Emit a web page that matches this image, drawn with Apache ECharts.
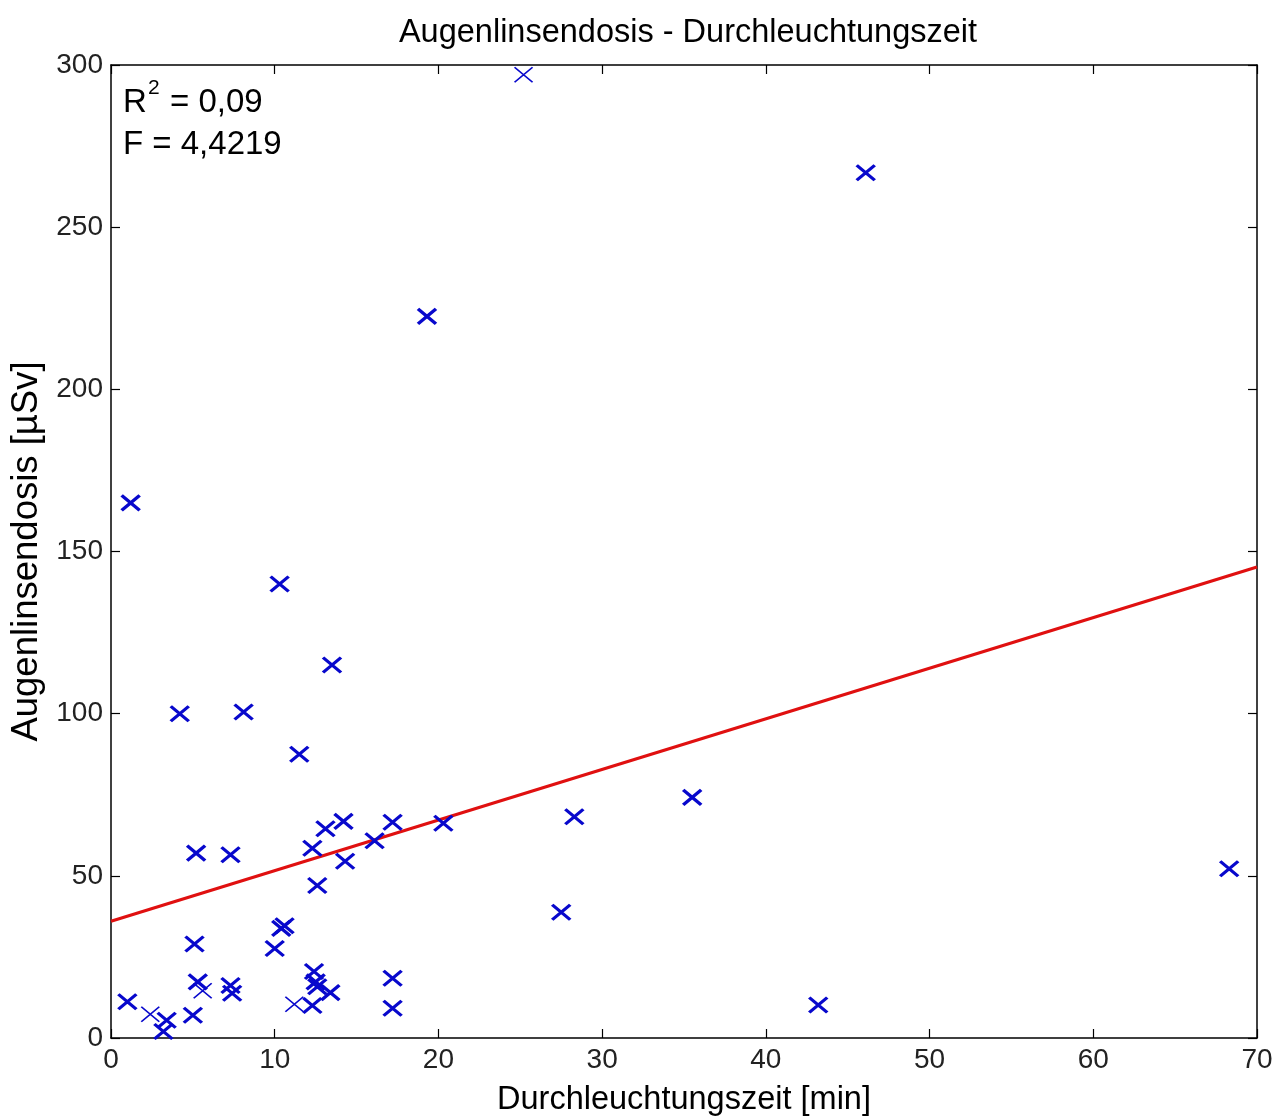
<!DOCTYPE html>
<html>
<head>
<meta charset="utf-8">
<script src="https://cdn.jsdelivr.net/npm/echarts@6/dist/echarts.min.js"></script>
<style>
  html, body { margin: 0; padding: 0; background: #fff; }
  #chart { width: 1275px; height: 1118px; }
</style>
</head>
<body>
<div id="chart"></div>
<script>
// Fluoroscopy time [min] vs. eye-lens dose [µSv]
const timeMin = [1.2, 1.0, 3.4, 3.2, 4.2, 5.0, 5.1, 5.2, 5.3, 7.3, 7.3, 7.4, 8.1,
  10.0, 10.3, 10.4, 10.6, 11.5, 12.3, 12.4, 12.5, 12.6, 12.3, 12.6, 13.1, 13.4, 13.5,
  14.2, 14.3, 16.1, 17.2, 17.2, 17.2, 19.3, 20.3, 27.5, 28.3, 35.5, 43.2, 46.1, 68.3];
const doseUSv = [165, 11.2, 5.5, 2.0, 100, 7.0, 29, 57, 17.3, 56.5, 16.2, 13.8, 100.5,
  27.6, 140, 33.8, 34.6, 87.5, 58.5, 20.5, 17.3, 15.8, 10.0, 47, 64.5, 14, 115,
  66.8, 54.5, 60.8, 66.5, 18.4, 9.2, 222.5, 66.2, 38.8, 68.2, 74.2, 10.2, 266.8, 52.2];
// Points drawn with a finer stroke
const thinTime = [2.4, 5.6, 11.2, 25.2];
const thinDose = [7.3, 14.6, 10.4, 297];

// Least-squares fit line endpoints
const fitX = [0, 70];
const fitY = [36.0, 145.2];
const rSquared = '0,09';
const fValue = '4,4219';

const xTicks = [0, 10, 20, 30, 40, 50, 60, 70];
const yTicks = [0, 50, 100, 150, 200, 250, 300];

const main = timeMin.map((t, i) => [t, doseUSv[i]]);
const thin = thinTime.map((t, i) => [t, thinDose[i]]);
const fit = fitX.map((x, i) => [x, fitY[i]]);

const crossPath = 'path://M0,0L10,10M10,0L0,10';
const font = 'Liberation Sans, Arial, sans-serif';
const blue = '#0808cc';

const chart = echarts.init(document.getElementById('chart'));
const baseAxis = {
  min: 0,
  gridIndex: 0,
  axisLine: { show: true, onZero: false, lineStyle: { color: '#000', width: 1.5 } },
  axisTick: { show: true, inside: true, length: 9, lineStyle: { color: '#000', width: 1.2 } },
  splitLine: { show: false },
};
chart.setOption({
  backgroundColor: '#fff',
  animation: false,
  title: {
    text: 'Augenlinsendosis - Durchleuchtungszeit',
    left: 683, top: 12, textAlign: 'center',
    textStyle: { fontFamily: font, fontSize: 32.5, fontWeight: 'normal', color: '#000' }
  },
  grid: { left: 111, right: 18, top: 65, bottom: 80, outerBoundsMode: 'none', containLabel: false },
  xAxis: [
    Object.assign({}, baseAxis, {
      type: 'value', max: 70, interval: 10, position: 'bottom',
      name: 'Durchleuchtungszeit [min]', nameLocation: 'middle', nameGap: 46,
      nameTextStyle: { fontFamily: font, fontSize: 32.5, color: '#000' },
      axisLabel: { fontFamily: font, fontSize: 28, color: '#222', margin: 8,
        formatter: v => xTicks.includes(v) ? String(v) : '' }
    }),
    Object.assign({}, baseAxis, {
      type: 'value', max: 70, interval: 10, position: 'top',
      axisLabel: { show: false }
    })
  ],
  yAxis: [
    Object.assign({}, baseAxis, {
      type: 'value', max: 300, interval: 50, position: 'left',
      name: 'Augenlinsendosis [µSv]', nameLocation: 'middle', nameGap: 66,
      nameTextStyle: { fontFamily: font, fontSize: 36.5, color: '#000' },
      axisLabel: { fontFamily: font, fontSize: 28, color: '#222', margin: 8,
        formatter: v => yTicks.includes(v) ? String(v) : '' }
    }),
    Object.assign({}, baseAxis, {
      type: 'value', max: 300, interval: 50, position: 'right',
      axisLabel: { show: false }
    })
  ],
  series: [
    {
      type: 'line', data: fit, symbol: 'none', silent: true,
      lineStyle: { color: '#e01010', width: 3.2 }, z: 2
    },
    {
      type: 'scatter', data: main, symbol: crossPath, symbolSize: [18, 15],
      itemStyle: { color: 'none', borderColor: blue, borderWidth: 3.2, opacity: 1 }, z: 3
    },
    {
      type: 'scatter', data: thin, symbol: crossPath, symbolSize: [18, 15],
      itemStyle: { color: 'none', borderColor: blue, borderWidth: 1.6, opacity: 1 }, z: 3
    }
  ],
  graphic: [
    {
      type: 'text', left: 123, top: 86,
      style: { text: 'R', fontFamily: font, fontSize: 33, fill: '#000' }
    },
    {
      type: 'text', left: 148, top: 78,
      style: { text: '2', fontFamily: font, fontSize: 21, fill: '#000' }
    },
    {
      type: 'text', left: 170, top: 86,
      style: { text: '= ' + rSquared, fontFamily: font, fontSize: 33, fill: '#000' }
    },
    {
      type: 'text', left: 123, top: 128,
      style: { text: 'F = ' + fValue, fontFamily: font, fontSize: 33, fill: '#000' }
    }
  ]
});
</script>
</body>
</html>
